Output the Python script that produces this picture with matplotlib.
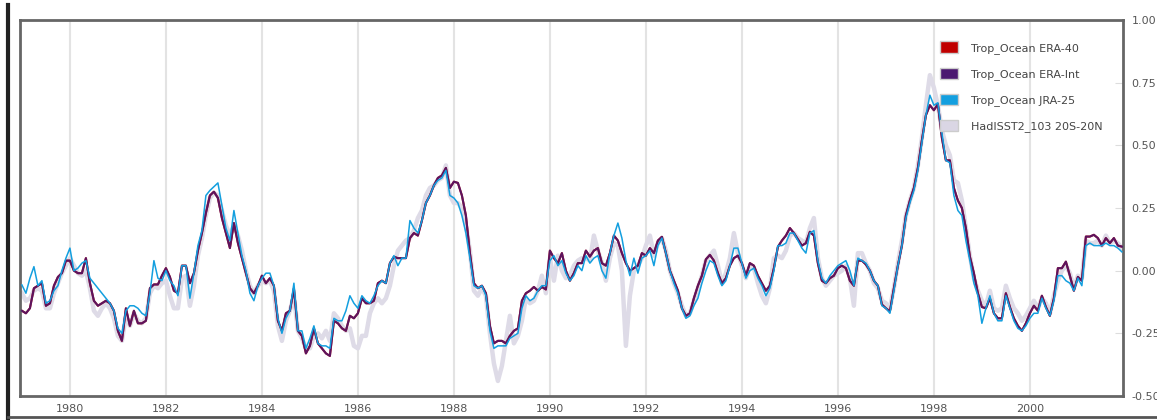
import numpy as np
import matplotlib
matplotlib.use("Agg")
import matplotlib.pyplot as plt
from matplotlib.patches import Patch
from matplotlib.lines import Line2D

## Monthly anomalies, Jan 1979 - Dec 2001 (one row per year)
era_int = [
    -0.16, -0.17, -0.15, -0.07, -0.06, -0.05, -0.14, -0.13, -0.06, -0.025, -0.01, 0.04,
    0.04, 0.0, -0.01, -0.01, 0.05, -0.05, -0.12, -0.14, -0.13, -0.12, -0.13, -0.16,
    -0.24, -0.28, -0.15, -0.22, -0.16, -0.21, -0.21, -0.2, -0.07, -0.055, -0.055, -0.02,
    0.01, -0.025, -0.08, -0.09, 0.02, 0.02, -0.05, -0.01, 0.08, 0.15, 0.23, 0.30,
    0.315, 0.29, 0.21, 0.15, 0.09, 0.19, 0.11, 0.05, -0.01, -0.07, -0.09, -0.06,
    -0.02, -0.05, -0.03, -0.06, -0.2, -0.24, -0.17, -0.16, -0.07, -0.24, -0.26, -0.33,
    -0.30, -0.23, -0.29, -0.31, -0.33, -0.34, -0.2, -0.21, -0.23, -0.24, -0.18, -0.19,
    -0.17, -0.11, -0.13, -0.13, -0.12, -0.05, -0.04, -0.05, 0.03, 0.055, 0.05, 0.05,
    0.05, 0.13, 0.15, 0.14, 0.2, 0.27, 0.30, 0.34, 0.37, 0.38, 0.41, 0.33,
    0.355, 0.35, 0.30, 0.22, 0.07, -0.05, -0.07, -0.06, -0.09, -0.22, -0.29, -0.28,
    -0.28, -0.29, -0.26, -0.24, -0.23, -0.12, -0.09, -0.08, -0.065, -0.08, -0.065, -0.075,
    0.08, 0.05, 0.03, 0.07, 0.0, -0.04, -0.01, 0.03, 0.03, 0.08, 0.056, 0.08,
    0.09, 0.03, 0.02, 0.07, 0.14, 0.12, 0.07, 0.03, 0.0, 0.01, 0.02, 0.07,
    0.06, 0.09, 0.07, 0.12, 0.135, 0.07, 0.0, -0.04, -0.08, -0.15, -0.18, -0.17,
    -0.11, -0.06, -0.02, 0.045, 0.063, 0.04, -0.01, -0.05, -0.03, 0.02, 0.05, 0.06,
    0.03, -0.02, 0.03, 0.02, -0.02, -0.05, -0.08, -0.06, 0.01, 0.095, 0.12, 0.14,
    0.17, 0.15, 0.125, 0.10, 0.11, 0.155, 0.14, 0.03, -0.04, -0.05, -0.03, -0.02,
    0.01, 0.02, 0.01, -0.04, -0.06, 0.04, 0.04, 0.025, 0.0, -0.04, -0.06, -0.135,
    -0.15, -0.163, -0.07, 0.02, 0.10, 0.22, 0.28, 0.33, 0.41, 0.52, 0.62, 0.66,
    0.64, 0.665, 0.53, 0.44, 0.44, 0.33, 0.28, 0.25, 0.17, 0.056, -0.01, -0.09,
    -0.145, -0.15, -0.11, -0.17, -0.19, -0.19, -0.09, -0.145, -0.19, -0.22, -0.24, -0.21,
    -0.17, -0.14, -0.16, -0.1, -0.145, -0.18, -0.11, 0.01, 0.01, 0.036, -0.02, -0.08,
    -0.025, -0.04, 0.136, 0.136, 0.143, 0.13, 0.10, 0.13, 0.11, 0.13, 0.10, 0.096,
]

# ERA-40 sits right under ERA-Int in the picture
era40 = list(era_int)

jra25 = [
    -0.057, -0.09, -0.03, 0.016, -0.06, -0.04, -0.13, -0.12, -0.08, -0.06, 0.0, 0.05,
    0.09, 0.0, 0.01, 0.03, 0.04, -0.03, -0.05, -0.07, -0.09, -0.11, -0.13, -0.16,
    -0.23, -0.25, -0.16, -0.14, -0.14, -0.15, -0.17, -0.18, -0.09, 0.04, -0.03, -0.04,
    0.0, -0.04, -0.06, -0.1, 0.02, 0.02, -0.11, -0.01, 0.1, 0.16, 0.30, 0.32,
    0.335, 0.35, 0.26, 0.17, 0.12, 0.24, 0.15, 0.06, 0.0, -0.09, -0.12, -0.06,
    -0.03, -0.01, -0.01, -0.06, -0.19, -0.25, -0.19, -0.16, -0.05, -0.24, -0.24, -0.31,
    -0.27, -0.22, -0.29, -0.30, -0.30, -0.31, -0.19, -0.2, -0.2, -0.16, -0.1, -0.13,
    -0.15, -0.1, -0.12, -0.13, -0.10, -0.06, -0.04, -0.05, 0.03, 0.06, 0.02, 0.05,
    0.05, 0.2, 0.17, 0.15, 0.2, 0.27, 0.30, 0.34, 0.36, 0.37, 0.40, 0.30,
    0.29, 0.27, 0.22, 0.15, 0.05, -0.06, -0.07, -0.06, -0.1, -0.24, -0.31, -0.30,
    -0.3, -0.3, -0.27, -0.26, -0.25, -0.15, -0.1, -0.12, -0.11, -0.08, -0.06, -0.06,
    0.04, 0.06, 0.02, 0.04, -0.01, -0.04, -0.02, 0.02, 0.0, 0.06, 0.03, 0.05,
    0.06, 0.0, -0.03, 0.07, 0.14, 0.19, 0.13, 0.04, -0.02, 0.05, -0.01, 0.05,
    0.06, 0.08, 0.02, 0.10, 0.13, 0.07, 0.0, -0.05, -0.09, -0.15, -0.19, -0.18,
    -0.14, -0.11, -0.05, 0.0, 0.04, 0.03, -0.02, -0.06, -0.04, 0.02, 0.09, 0.09,
    0.03, -0.03, 0.0, 0.01, -0.03, -0.06, -0.1, -0.07, 0.0, 0.1, 0.1, 0.11,
    0.15, 0.15, 0.12, 0.09, 0.07, 0.15, 0.16, 0.04, -0.03, -0.05, -0.02, 0.0,
    0.02, 0.03, 0.04, 0.0, -0.06, 0.05, 0.04, 0.03, 0.0, -0.04, -0.06, -0.14,
    -0.15, -0.17, -0.08, 0.02, 0.1, 0.21, 0.27, 0.32, 0.40, 0.51, 0.62, 0.70,
    0.66, 0.67, 0.55, 0.44, 0.43, 0.30, 0.24, 0.22, 0.12, 0.04, -0.05, -0.1,
    -0.21, -0.15, -0.1, -0.17, -0.2, -0.2, -0.1, -0.15, -0.2, -0.23, -0.24, -0.22,
    -0.19, -0.17, -0.17, -0.11, -0.15, -0.18, -0.12, -0.02, -0.02, -0.04, -0.05, -0.08,
    -0.03, -0.06, 0.10, 0.11, 0.10, 0.10, 0.10, 0.11, 0.10, 0.10, 0.09, 0.075,
]

hadisst = [
    -0.09, -0.12, -0.11, -0.08, -0.07, -0.08, -0.15, -0.15, -0.09, -0.05, -0.01, 0.02,
    0.05, 0.02, -0.01, -0.02, 0.0, -0.07, -0.16, -0.18, -0.15, -0.13, -0.15, -0.19,
    -0.26, -0.28, -0.18, -0.22, -0.17, -0.2, -0.21, -0.19, -0.09, -0.06, -0.07, -0.05,
    -0.04, -0.1, -0.15, -0.15, -0.03, -0.02, -0.14, -0.06, 0.06, 0.13, 0.22, 0.29,
    0.31, 0.30, 0.24, 0.18, 0.14, 0.18, 0.14, 0.08, 0.0, -0.06, -0.09, -0.06,
    -0.04, -0.05, -0.04, -0.08, -0.22, -0.28, -0.2, -0.16, -0.1, -0.24, -0.27, -0.31,
    -0.31, -0.26, -0.25, -0.27, -0.24, -0.28, -0.17, -0.19, -0.22, -0.24, -0.23, -0.30,
    -0.31, -0.26, -0.26, -0.17, -0.13, -0.11, -0.13, -0.11, -0.06, 0.02, 0.08, 0.1,
    0.12, 0.13, 0.16, 0.21, 0.24, 0.30, 0.33, 0.34, 0.36, 0.37, 0.42, 0.30,
    0.27, 0.27, 0.25, 0.18, 0.08, -0.08, -0.1, -0.07, -0.1, -0.25, -0.37, -0.44,
    -0.38, -0.28, -0.18, -0.29, -0.26, -0.2, -0.11, -0.13, -0.12, -0.08, -0.02, -0.09,
    0.05, -0.04, 0.06, 0.0, -0.03, -0.02, 0.02, 0.04, 0.05, 0.05, 0.04, 0.14,
    0.08, 0.03, -0.04, 0.05, 0.11, 0.10, 0.0, -0.3, -0.1, 0.0, 0.02, 0.05,
    0.1, 0.14, 0.06, 0.11, 0.13, 0.08, 0.0, -0.05, -0.09, -0.14, -0.18, -0.17,
    -0.12, -0.07, -0.02, 0.04, 0.06, 0.08, 0.02, -0.05, -0.01, 0.05, 0.15, 0.07,
    0.02, -0.03, 0.02, 0.01, -0.05, -0.1, -0.13, -0.07, 0.05, 0.06, 0.05, 0.08,
    0.14, 0.15, 0.13, 0.12, 0.11, 0.17, 0.21, 0.05, -0.03, -0.06, -0.04, -0.02,
    -0.01, 0.0, 0.02, -0.03, -0.14, 0.07, 0.07, 0.03, 0.0, -0.05, -0.07, -0.12,
    -0.13, -0.15, -0.07, 0.03, 0.12, 0.22, 0.28, 0.33, 0.42, 0.53, 0.66, 0.78,
    0.73, 0.66, 0.56, 0.50, 0.46, 0.36, 0.35, 0.28, 0.17, 0.06, -0.03, -0.08,
    -0.12, -0.14, -0.08, -0.15, -0.16, -0.15, -0.06, -0.11, -0.15, -0.17, -0.2, -0.18,
    -0.15, -0.12, -0.15, -0.11, -0.13, -0.17, -0.1, -0.04, 0.0, 0.02, -0.01, -0.07,
    -0.02, -0.03, 0.12, 0.11, 0.11, 0.12, 0.10, 0.14, 0.11, 0.12, 0.11, 0.09,
]

labels = ["Trop_Ocean ERA-40", "Trop_Ocean ERA-Int", "Trop_Ocean JRA-25", "HadISST2_103 20S-20N"]
colors = ["#c00000", "#4b1870", "#139fdf", "#dad6e4"]
year_ticks = [1980, 1982, 1984, 1986, 1988, 1990, 1992, 1994, 1996, 1998, 2000]
y_ticks = [-0.5, -0.25, 0.0, 0.25, 0.5, 0.75, 1.0]

t = 1979 + np.arange(len(era_int)) / 12.0

fig = plt.figure(figsize=(11.57, 4.2), dpi=100)
ax = fig.add_axes([20 / 1157, 24 / 420, 1103 / 1157, 376 / 420])

## vertical grid only
for yr in year_ticks:
    ax.axvline(yr, color="#e3e3e3", lw=1.5, zorder=0)

ax.plot(t, hadisst, color="#dedbe7", lw=3.2, solid_joinstyle="round", zorder=1)
ax.plot(t, era40, color=colors[0], lw=1.5, zorder=2)
ax.plot(t, era_int, color=colors[1], lw=1.5, alpha=0.85, zorder=3)
ax.plot(t, jra25, color=colors[2], lw=1.1, zorder=4)

ax.set_xlim(1978.96, 2001.94)
ax.set_ylim(-0.5, 1.0)
ax.set_xticks(year_ticks)
ax.set_xticklabels([str(y) for y in year_ticks])
ax.set_yticks(y_ticks)
ax.set_yticklabels(["%.2f" % v for v in y_ticks])
ax.yaxis.tick_right()
ax.tick_params(axis="x", length=0, pad=6, labelsize=8, labelcolor="#555555")
ax.tick_params(axis="y", direction="in", length=6, color="#dddddd", pad=6,
               labelsize=8, labelcolor="#555555")
for s in ax.spines.values():
    s.set_color("#666666")
    s.set_linewidth(2)

handles = [Patch(facecolor=c, edgecolor="#cccccc", linewidth=1) for c in colors]
leg = ax.legend(handles, labels, loc="upper left", bbox_to_anchor=(0.83, 0.955),
                frameon=False, fontsize=8, handlelength=1.6, handleheight=1.2,
                labelspacing=1.25, handletextpad=1.2, borderaxespad=0)
for txt in leg.get_texts():
    txt.set_color("#444444")

## outer frame bits
fig.add_artist(Line2D([8 / 1157, 8 / 1157], [0, 415 / 420], color="#222222", lw=3))
fig.add_artist(Line2D([8 / 1157, 1], [3 / 420, 3 / 420], color="#555555", lw=2))

fig.savefig("out.png", dpi=100)
